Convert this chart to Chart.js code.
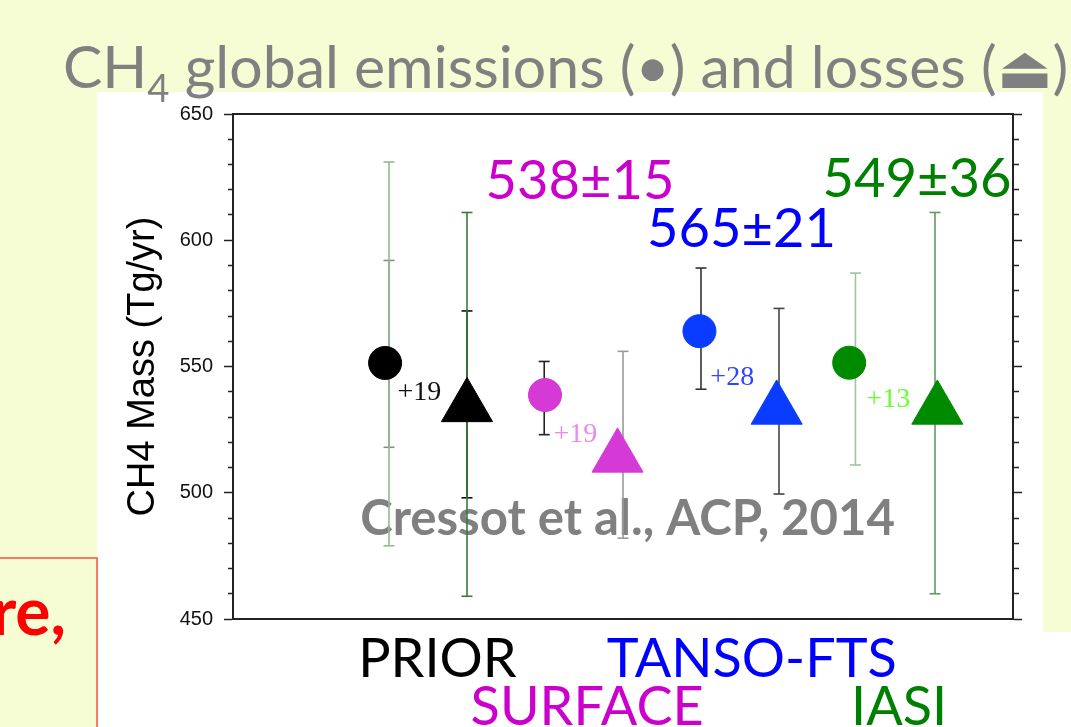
<!DOCTYPE html>
<html>
<head>
<meta charset="utf-8">
<script src="https://cdn.jsdelivr.net/npm/chart.js@4.4.1/dist/chart.umd.min.js"></script>
<style>
  html, body { margin: 0; padding: 0; background: #f6fcd4; }
  #wrap { width: 1071px; height: 727px; position: relative; }
</style>
</head>
<body>
<div id="wrap"><canvas id="chart" width="1071" height="727"></canvas></div>
<script>
// groups along the x axis
const groups = ['PRIOR', 'SURFACE', 'TANSO-FTS', 'IASI'];
const groupColors = ['#000000', '#cc00cc', '#0000ff', '#008000'];
const groupLabelX = [2.62, 4.54, 6.65, 8.54];

// emissions (circles) and losses (triangles), Tg/yr
const emissionX = [1.95, 4.0, 5.98, 7.9];
const emissions = [551.4, 538.7, 564, 551.5];
const lossX = [3.0, 4.93, 6.97, 9.03];
const losses = [534, 514, 533, 533];
const markerColors = ['#000000', '#d63ad6', '#0a3cff', '#008a00'];

// error bars
const barX = [2.0, 2.0, 3.0, 3.0, 3.99, 5.0, 6.0, 7.0, 7.98, 9.0];
const barLow = [479, 518, 459, 498, 523, 482, 541, 499.5, 511, 460];
const barHigh = [631, 592, 611, 572, 552, 556, 589, 573, 587, 611];
const barColors = ['#8fbc8f', '#8a8a8a', '#3a7a3a', '#111111', '#222222',
                   '#9a9a9a', '#333333', '#444444', '#9cc79c', '#5f9a5f'];

// difference labels next to the emissions
const diffs = ['+19', '+19', '+28', '+13'];
const diffX = [2.11, 4.11, 6.12, 8.12];
const diffY = [536.7, 520.2, 542.7, 534.1];
const diffColors = ['#111111', '#ee88ee', '#3344ff', '#66ff33'];

// totals written above the groups
const totals = ['538±15', '565±21', '549±36'];
const totalX = [4.45, 6.52, 8.77];
const totalY = [616.3, 597.3, 617.1];
const totalColors = ['#cc00cc', '#0000ff', '#008000'];

// y axis
const yMin = 450;
const yMax = 650;
const yStep = 10;
const yLabelEvery = 50;

const FONT = 'Lato, "Open Sans", sans-serif';

function fitSize(ctx, text, weight, family, width) {
    ctx.font = weight + ' 100px ' + family;
    return 100 * width / ctx.measureText(text).width;
}

const decorPlugin = {
    id: 'decor',
    beforeDraw(chart) {
        const ctx = chart.ctx;
        ctx.save();
        // slide background
        ctx.fillStyle = '#f6fcd4';
        ctx.fillRect(0, 0, chart.width, chart.height);
        ctx.fillStyle = '#ffffff';
        ctx.fillRect(97, 92, 946, 540);
        ctx.fillRect(97, 632, chart.width - 97, chart.height - 632);
        // red box at the bottom left
        ctx.strokeStyle = '#ff4a3a';
        ctx.lineWidth = 1.5;
        ctx.strokeRect(-5, 558, 102, 200);
        ctx.fillStyle = '#ff0000';
        ctx.font = 'bold 66px ' + FONT;
        ctx.textAlign = 'right';
        ctx.textBaseline = 'alphabetic';
        ctx.fillText('re,', 66, 635);

        // title
        const t1 = 'CH';
        const t2 = '4';
        const t3 = ' global emissions (•) and losses (⏏)';
        ctx.font = '100px ' + FONT;
        const w1 = ctx.measureText(t1).width;
        const w3 = ctx.measureText(t3).width;
        ctx.font = '65px ' + FONT;
        const w2 = ctx.measureText(t2).width;
        const size = 100 * 1005 / (w1 + w2 + w3);
        ctx.fillStyle = '#808080';
        ctx.textAlign = 'left';
        let x = 63;
        ctx.font = size + 'px ' + FONT;
        ctx.fillText(t1, x, 88);
        x += ctx.measureText(t1).width;
        ctx.font = (size * 0.65) + 'px ' + FONT;
        ctx.fillText(t2, x, 102);
        x += ctx.measureText(t2).width;
        ctx.font = size + 'px ' + FONT;
        ctx.fillText(t3, x, 88);
        ctx.restore();
    },
    beforeDatasetsDraw(chart) {
        const ctx = chart.ctx;
        const xs = chart.scales.x;
        const ys = chart.scales.y;
        ctx.save();
        const txt = 'Cressot et al., ACP, 2014';
        const s = fitSize(ctx, txt, 'bold', FONT, 535);
        ctx.font = 'bold ' + s + 'px ' + FONT;
        ctx.fillStyle = '#808080';
        ctx.textAlign = 'center';
        ctx.textBaseline = 'alphabetic';
        ctx.fillText(txt, xs.getPixelForValue(5.06), ys.getPixelForValue(483.3));
        ctx.restore();
    },
    afterDatasetsDraw(chart) {
        const ctx = chart.ctx;
        const xs = chart.scales.x;
        const ys = chart.scales.y;
        const area = chart.chartArea;
        ctx.save();
        ctx.textBaseline = 'alphabetic';

        // +N differences
        ctx.textAlign = 'left';
        ctx.font = '28px "Liberation Serif", serif';
        diffs.forEach((d, i) => {
            ctx.fillStyle = diffColors[i];
            ctx.fillText(d, xs.getPixelForValue(diffX[i]), ys.getPixelForValue(diffY[i]));
        });

        // totals
        ctx.textAlign = 'center';
        totals.forEach((t, i) => {
            const s = fitSize(ctx, t, 'normal', FONT, 189);
            ctx.font = s + 'px ' + FONT;
            ctx.fillStyle = totalColors[i];
            ctx.fillText(t, xs.getPixelForValue(totalX[i]), ys.getPixelForValue(totalY[i]));
        });

        // group names under the axis, two staggered rows
        ctx.font = '54px ' + FONT;
        groups.forEach((g, i) => {
            ctx.fillStyle = groupColors[i];
            const row = i % 2 === 0 ? 58 : 106;
            ctx.fillText(g, xs.getPixelForValue(groupLabelX[i]), area.bottom + row);
        });
        ctx.restore();
    }
};

const isMinor = (c) => c.tick && (c.tick.value % yLabelEvery) !== 0;

const datasets = [];
barX.forEach((bx, i) => {
    datasets.push({
        type: 'scatter',
        showLine: true,
        data: [{ x: bx, y: barLow[i] }, { x: bx, y: barHigh[i] }],
        borderColor: barColors[i],
        borderWidth: 1.6,
        pointStyle: 'line',
        pointRadius: 5.5,
        pointBorderColor: barColors[i],
        pointBorderWidth: 1.6,
        order: 2
    });
});
datasets.push({
    type: 'scatter',
    data: emissionX.map((x, i) => ({ x: x, y: emissions[i] })),
    pointStyle: 'circle',
    pointRadius: 16.5,
    pointBackgroundColor: markerColors,
    pointBorderColor: markerColors,
    pointBorderWidth: 1,
    order: 1
});
datasets.push({
    type: 'scatter',
    data: lossX.map((x, i) => ({ x: x, y: losses[i] })),
    pointStyle: 'triangle',
    pointRadius: 29.5,
    pointBackgroundColor: markerColors,
    pointBorderColor: markerColors,
    pointBorderWidth: 1,
    order: 1
});

new Chart(document.getElementById('chart'), {
    type: 'scatter',
    data: { datasets: datasets },
    options: {
        responsive: false,
        animation: false,
        devicePixelRatio: 1,
        layout: { padding: { top: 114, left: 0, right: 0, bottom: 0 } },
        plugins: { legend: { display: false }, tooltip: { enabled: false } },
        scales: {
            x: {
                type: 'linear', position: 'bottom', min: 0, max: 10,
                ticks: { display: false },
                grid: { drawOnChartArea: false, drawTicks: false },
                border: { display: true, color: '#222222', width: 2 },
                afterFit: (s) => { s.height = 108; }
            },
            xTop: {
                type: 'linear', position: 'top', min: 0, max: 10,
                ticks: { display: false },
                grid: { drawOnChartArea: false, drawTicks: false },
                border: { display: true, color: '#222222', width: 2 },
                afterFit: (s) => { s.height = 0; }
            },
            y: {
                type: 'linear', position: 'left', min: yMin, max: yMax,
                ticks: {
                    stepSize: yStep, autoSkip: false, padding: 11, color: '#111111',
                    font: { family: '"Liberation Sans", Arial, sans-serif', size: 20 },
                    callback: (v) => (v % yLabelEvery === 0 ? v : '')
                },
                grid: {
                    drawOnChartArea: false, tickLength: 9, tickColor: '#222222', tickWidth: 1.5,
                    tickBorderDash: (c) => (isMinor(c) ? [5, 4] : []),
                    tickBorderDashOffset: (c) => (isMinor(c) ? 5 : 0)
                },
                border: { display: true, color: '#222222', width: 2 },
                title: {
                    display: true, text: 'CH4 Mass (Tg/yr)', color: '#000000',
                    font: { family: '"Liberation Sans", Arial, sans-serif', size: 38 },
                    padding: { top: 121, bottom: 0 }
                },
                afterFit: (s) => { s.width = 233; }
            },
            yR: {
                type: 'linear', position: 'right', min: yMin, max: yMax,
                ticks: { display: false, stepSize: yStep, autoSkip: false },
                grid: {
                    drawOnChartArea: false, tickLength: 9, tickColor: '#222222', tickWidth: 1.5,
                    tickBorderDash: (c) => (isMinor(c) ? [5, 100] : [])
                },
                border: { display: true, color: '#222222', width: 2 },
                afterFit: (s) => { s.width = 58; }
            }
        }
    },
    plugins: [decorPlugin]
});
</script>
</body>
</html>
